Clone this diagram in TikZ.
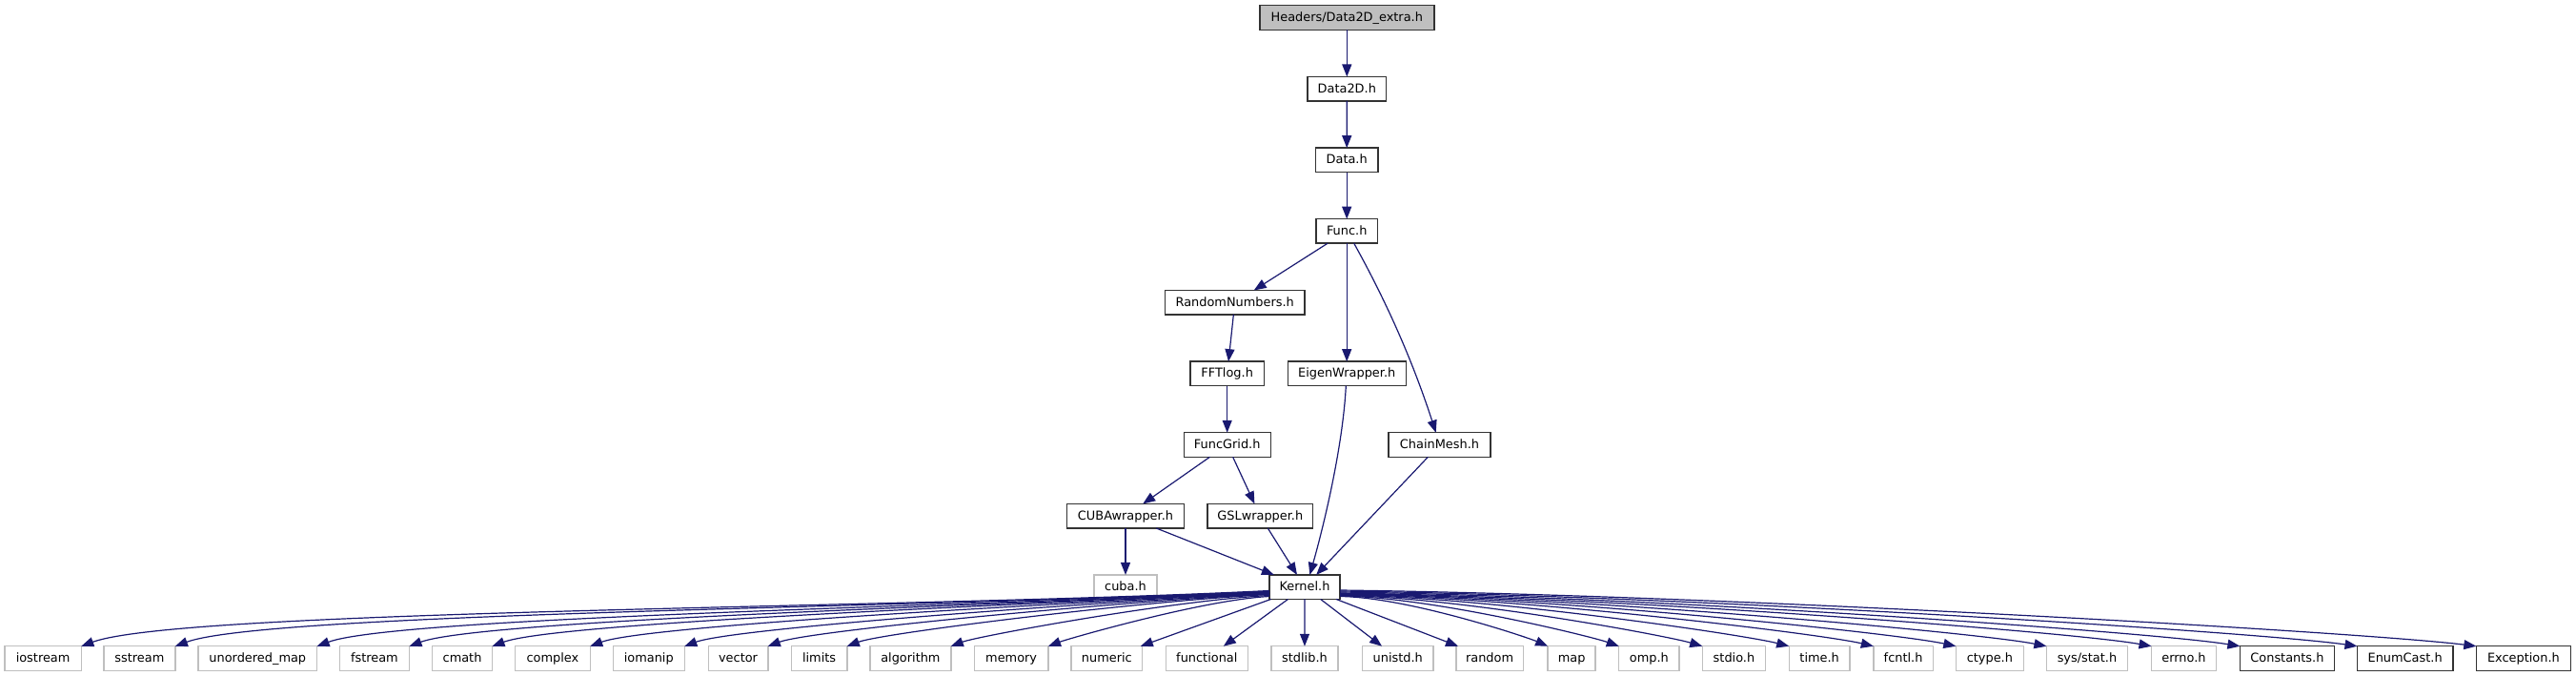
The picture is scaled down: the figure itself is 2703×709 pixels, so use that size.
\documentclass[tikz,border=0pt]{standalone}
\usepackage{fontspec}
\setmainfont{DejaVu Sans}
\usetikzlibrary{arrows.meta}
\definecolor{mid}{HTML}{191970}
\definecolor{gsf}{HTML}{BFBFBF}
\newcommand\kedgeL[4]{%
  \pgfmathsetmacro\myD{1332-#2}%
  \pgfmathsetmacro\myY{615.7+#3}%
  \draw[edge] ([yshift=-#3pt]K.west) .. controls ({1332-0.3*\myD},{\myY+0.015*\myD}) and ({#2+0.09*\myD*cos(#4)},{677.5-0.09*\myD*sin(#4)}) .. (#1.north east);}
\newcommand\kedgeR[4]{%
  \pgfmathsetmacro\myD{#2-1406}%
  \pgfmathsetmacro\myY{615.7+#3}%
  \draw[edge] ([yshift=-#3pt]K.east) .. controls ({1406+0.33*\myD},{\myY+0.004*\myD}) and ({#2-0.1*\myD*cos(#4)},{677.5-0.1*\myD*sin(#4)}) .. (#1.north west);}
\newcommand\bnode[5]{%
  \pgfmathsetmacro\myW{#4-#3}%
  \node[#1, minimum width=\myW pt] (#2) at ({(#3+#4)/2},690.5) {#5};}
\begin{document}
\begin{tikzpicture}[x=1pt,y=-1pt,
  box/.style={rectangle, inner sep=0pt, outer sep=0pt, minimum height=25.5pt, line width=1.4pt,
    font=\fontsize{12.9}{15}\selectfont, text height=9.6pt, text depth=1.6pt},
  blk/.style={box, draw=black!80, fill=white},
  sysbox/.style={box, draw=gsf, fill=white},
  rootbox/.style={box, draw=black!80, fill=gsf},
  edge/.style={draw=mid, line width=1.2pt, -{Triangle[length=13pt,width=10pt]}}]
\useasboundingbox (0,0) rectangle (2703,709);
% upper part
\node[rootbox, minimum width=183pt] (H) at (1413.3,18.5) {Headers/Data2D\_extra.h};
\node[blk, minimum width=82.6pt] (D2) at (1413.3,93.2) {Data2D.h};
\node[blk, minimum width=65.4pt] (D) at (1413.2,167.9) {Data.h};
\node[blk, minimum width=64.3pt] (F) at (1413.2,242.4) {Func.h};
\node[blk, minimum width=146.7pt] (RN) at (1295.7,317.2) {RandomNumbers.h};
\node[blk, minimum width=77.3pt] (FFT) at (1287.7,391.9) {FFTlog.h};
\node[blk, minimum width=124pt] (EW) at (1413.2,391.9) {EigenWrapper.h};
\node[blk, minimum width=91pt] (FG) at (1287.7,466.5) {FuncGrid.h};
\node[blk, minimum width=107pt] (CM) at (1510.5,466.5) {ChainMesh.h};
\node[blk, minimum width=123.4pt] (CW) at (1181,541.2) {CUBAwrapper.h};
\node[blk, minimum width=110.7pt] (GW) at (1322.3,541.2) {GSLwrapper.h};
\node[sysbox, minimum width=65.7pt] (cuba) at (1181,615.7) {cuba.h};
\node[blk, minimum width=74pt] (K) at (1369,615.7) {Kernel.h};
% bottom row
\bnode{sysbox}{iostream}{4.9}{85.3}{iostream}
\bnode{sysbox}{sstream}{108.9}{183.9}{sstream}
\bnode{sysbox}{umap}{208}{332.6}{unordered\_map}
\bnode{sysbox}{fstream}{356.3}{429.5}{fstream}
\bnode{sysbox}{cmath}{453.6}{516.5}{cmath}
\bnode{sysbox}{complex}{540.6}{619.2}{complex}
\bnode{sysbox}{iomanip}{643.3}{718.3}{iomanip}
\bnode{sysbox}{vector}{743.3}{805.8}{vector}
\bnode{sysbox}{limits}{830.4}{888.8}{limits}
\bnode{sysbox}{algorithm}{913}{997.8}{algorithm}
\bnode{sysbox}{memory}{1022.3}{1100}{memory}
\bnode{sysbox}{numeric}{1124.1}{1198.7}{numeric}
\bnode{sysbox}{functional}{1223.2}{1309.4}{functional}
\bnode{sysbox}{stdlib}{1333.9}{1404}{stdlib.h}
\bnode{sysbox}{unistd}{1429.5}{1504}{unistd.h}
\bnode{sysbox}{random}{1528}{1598.2}{random}
\bnode{sysbox}{map}{1624.1}{1674.1}{map}
\bnode{sysbox}{omp}{1698.7}{1762}{omp.h}
\bnode{sysbox}{stdio}{1786.2}{1852.7}{stdio.h}
\bnode{sysbox}{time}{1877.2}{1941.1}{time.h}
\bnode{sysbox}{fcntl}{1965.8}{2028.3}{fcntl.h}
\bnode{sysbox}{ctype}{2052.3}{2123.5}{ctype.h}
\bnode{sysbox}{sysstat}{2147.4}{2232.5}{sys/stat.h}
\bnode{sysbox}{errno}{2257.5}{2325.3}{errno.h}
\bnode{blk}{Constants}{2350.4}{2449.4}{Constants.h}
\bnode{blk}{EnumCast}{2473.5}{2573.8}{EnumCast.h}
\bnode{blk}{Exception}{2598.3}{2697.5}{Exception.h}
% upper edges
\draw[edge] (H) -- (D2);
\draw[edge] (D2) -- (D);
\draw[edge] (D) -- (F);
\draw[edge] (F) -- (RN);
\draw[edge] (F) -- (EW);
\draw[edge] ([xshift=7.5pt]F.south) .. controls (1459.5,325) and (1485,387) .. ([xshift=-3.8pt]CM.north);
\draw[edge] (RN) -- (FFT);
\draw[edge] (FFT) -- (FG);
\draw[edge] (FG) -- (CW);
\draw[edge] (FG) -- (GW);
\draw[edge] (CW) -- (cuba);
\draw[edge] (CW) -- (K);
\draw[edge] (GW) -- (K);
\draw[edge] ([xshift=-0.9pt]EW.south) .. controls (1409,470) and (1388,555) .. ([xshift=5.3pt]K.north);
\draw[edge] (CM) -- (K);
% Kernel to system headers
\kedgeL{iostream}{85.3}{3.8}{20}
\kedgeL{sstream}{183.9}{4.3}{20}
\kedgeL{umap}{332.6}{4.8}{20}
\kedgeL{fstream}{429.5}{5.3}{20}
\kedgeL{cmath}{516.5}{5.8}{20}
\kedgeL{complex}{619.2}{6.3}{20}
\kedgeL{iomanip}{718.3}{6.8}{20}
\kedgeL{vector}{805.8}{7.3}{20}
\kedgeL{limits}{888.8}{7.8}{20}
\kedgeL{algorithm}{997.8}{8.8}{20}
\kedgeL{memory}{1100}{9.8}{20}
\draw[edge] (K) -- (numeric);
\draw[edge] (K) -- (functional);
\draw[edge] (K) -- (stdlib);
\draw[edge] (K) -- (unistd);
\draw[edge] (K) -- (random);
\kedgeR{map}{1624.1}{9.8}{23}
\kedgeR{omp}{1698.7}{9.3}{19}
\kedgeR{stdio}{1786.2}{8.8}{16}
\kedgeR{time}{1877.2}{8.3}{14}
\kedgeR{fcntl}{1965.8}{7.8}{13}
\kedgeR{ctype}{2052.3}{7.3}{12}
\kedgeR{sysstat}{2147.4}{6.8}{11}
\kedgeR{errno}{2257.5}{6.3}{10}
\kedgeR{Constants}{2350.4}{5.3}{9}
\kedgeR{EnumCast}{2473.5}{4.3}{8}
\kedgeR{Exception}{2598.3}{3.3}{7}
\end{tikzpicture}
\end{document}
